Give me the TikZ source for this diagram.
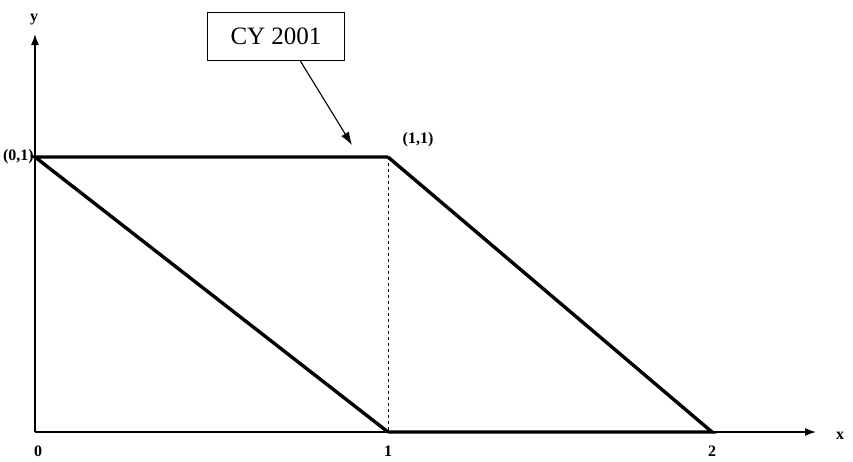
\documentclass[tikz,border=0pt]{standalone}
\usepackage{fontspec}
\setmainfont{Liberation Serif}
\usetikzlibrary{arrows.meta}
\begin{document}
\begin{tikzpicture}[x=1pt, y=-1pt,
    edge/.style={line width=3.4pt},
    axis/.style={-{Latex[length=11pt,width=8pt]}, line width=1.4pt},
    lbl/.style={font=\bfseries\fontsize{16}{18}\selectfont, inner sep=1pt},
    tag/.style={rectangle, draw, line width=0.9pt, font=\fontsize{25}{28}\selectfont, minimum width=137pt, minimum height=48pt}
]
    \useasboundingbox (0,0) rectangle (853,461);
    % axes
    \coordinate (origin) at (35,432);
    \coordinate (ytop) at (35,34);
    \coordinate (xend) at (816,432);
    \draw [axis] (origin) -- (ytop);
    \draw [axis] (origin) -- (xend);
    \node [lbl] (ylab) at (34,20) {y};
    \node [lbl] (xlab) at (840,436) {x};
    % corners of the region
    \coordinate (a01) at (35,157);
    \coordinate (a11) at (388,157);
    \coordinate (a10) at (388,432);
    \coordinate (a20) at (712,432);
    \draw [edge] (a11) -- (a01) -- (a10);
    \draw [edge] (a11) -- (a20) -- (a10);
    \draw [dashed, line width=0.8pt] (a11) -- (a10);
    % labels
    \node [lbl, left] (l01) at (a01) {(0,1)};
    \node [lbl] (l11) at (418,140) {(1,1)};
    \node [lbl] (t0) at (38,451) {0};
    \node [lbl] (t1) at (388,451) {1};
    \node [lbl] (t2) at (712,451) {2};
    % call-out box
    \node [tag] (cybox) at (276,36) {CY 2001};
    \coordinate (tip) at (352,145);
    \draw [-{Latex[length=13pt,width=9pt]}, line width=1.1pt] ([xshift=24pt]cybox.south) -- (tip);
\end{tikzpicture}
\end{document}
